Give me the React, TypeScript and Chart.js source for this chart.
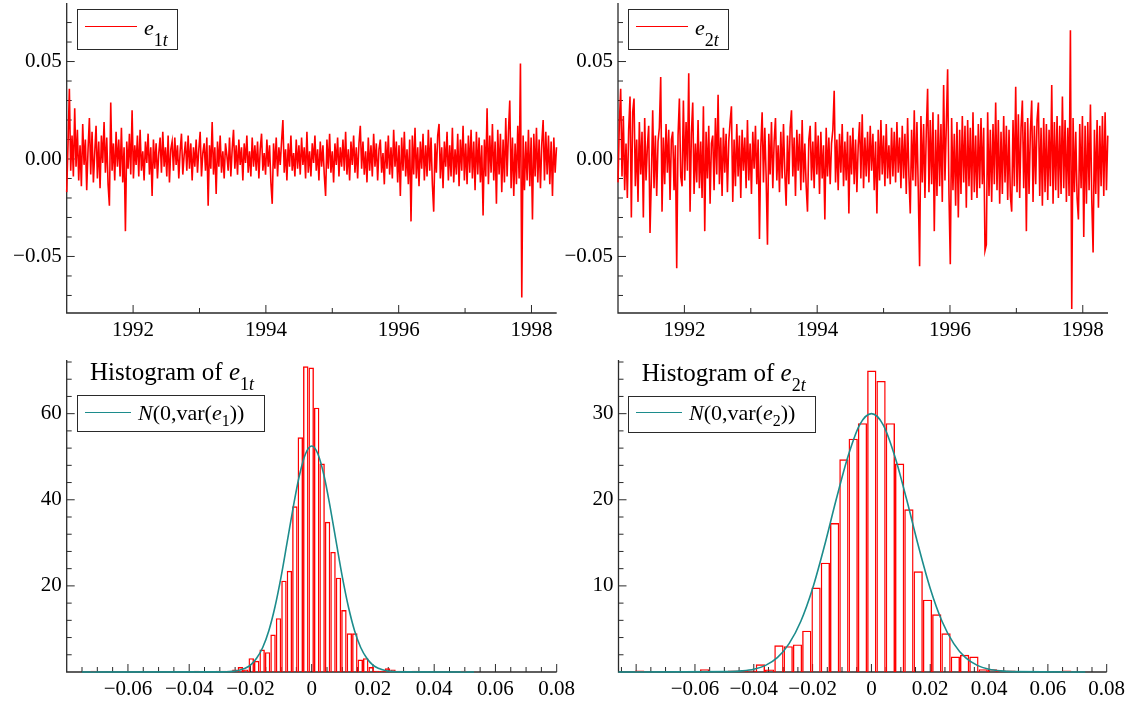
import React, { useEffect, useRef } from 'react';
import { Chart, registerables } from 'chart.js';

Chart.register(...registerables);

const FONT = "'Liberation Serif', 'Times New Roman', Times, serif";
const RED = '#ff0000';
const TEAL = '#1c8c8c';
const AXIS = '#2a2a2a';

// ---------- time series (residuals, in thousandths) ----------
const obsStartYear = 1991.0;
const obsStepYears = 0.0201;
const timeAxisMin = 1991.0;
const timeAxisMax = 1998.38;
const yearLabels = [1992, 1994, 1996, 1998];
const yearMinor = [1993, 1995, 1997];
const resYMin = -0.079;
const resYMax = 0.079;
const resYLabels = [-0.05, 0, 0.05];

const e1Permille = [
  -17, 8, 36, -6, 12, -9, 26, -4, 15, -11, 7, -14, 18, -3, 10, -16,
  5, 21, -8, 14, -12, 3, 17, -10, 9, -15, 12, -2, 19, -7, 11, -13,
  -24, 29, -6, 8, -11, 14, -4, 10, -9, 16, -12, 6, -37, 9, -5, 13,
  -8, 25, -10, 7, -3, 12, -9, 15, -6, 4, -11, 9, -2, 13, -8, 6,
  -19, 10, -5, 8, -10, 3, 11, -7, 14, -4, 6, -9, 12, -12, 5, 9,
  -6, 11, -3, 7, -10, 4, 13, -8, 2, 9, -6, 12, -5, 8, -11, 6,
  -4, 10, -7, 5, 14, -9, 3, 8, -6, 11, -24, 7, -5, 19, -8, 6,
  -18, 9, -4, 12, -7, 4, -10, 8, 2, -6, 11, -9, 5, 15, -5, 7,
  -8, 10, -3, 6, -11, 8, -2, 12, -7, 4, -9, 11, -4, 7, -6, 9,
  -10, 5, 13, -6, 3, -8, 10, -4, 7, -12, -23, 8, -5, 11, -9, 6,
  -3, 9, 20, -7, 5, -11, 8, -4, 12, -6, 3, -9, 10, -5, 7, -8,
  11, -3, 6, -10, 14, -7, 4, -9, 8, -2, 12, -6, 5, -11, 9, -4,
  7, -8, -19, 10, -5, 13, -7, 4, -12, 8, -3, 11, -9, 6, -4, 10,
  -6, 14, -8, 5, -11, 9, -3, 12, -7, 6, -10, 8, 17, -5, 9, -8,
  4, -12, 11, -6, 7, -9, 13, -4, 8, -11, 5, 10, -7, 3, -13, 9,
  -5, 12, -8, 6, -10, 15, -4, 9, -12, 7, -19, 11, -6, 14, -9, 5,
  -13, 10, -32, 12, -8, 16, -10, 6, -14, 9, -5, 13, -11, 7, -9, 15,
  -6, 11, -13, -27, 8, -7, 12, 18, -10, 6, -15, 9, -4, 14, -11, 7,
  -9, 16, -12, 5, -8, 13, -14, 10, -6, 17, -11, 8, -13, 12, -7, 15,
  -10, 9, -16, 14, -8, 11, -12, 7, -29, 10, -9, 26, -13, 12, -7, 18,
  -11, 9, -23, 15, -8, 13, -17, 10, -12, 21, -9, 14, 30, -15, 11, -19,
  8, -13, 17, -10, 49, -71, 12, -16, 9, -11, 15, -14, 11, -31, 13, -9,
  16, -12, 10, -15, 8, 20, -11, 14, -8, 12, -13, 9, -19, 11, -7, 6,
];

const e2Permille = [
  -12, 18, 36, -9, 22, -16, 8, -20, 15, 32, -30, 24, 31, -14, 10, -22,
  19, -8, 14, -30, 21, -11, 6, 17, -38, -10, 25, -15, 12, -19, 9, 16,
  42, -27, 11, -13, 18, -7, 15, -21, 10, 14, -16, 7, -56, 12, 31, -9,
  -14, 30, -11, 19, -6, 44, -27, 13, 29, -18, 8, -12, 20, -15, 9, -20,
  27, -37, 14, -10, 17, -23, 8, 12, -16, 21, -8, 33, -13, 11, -19, 16,
  -7, 13, -17, 9, 19, 27, -22, 10, -14, 18, -9, 12, -20, 15, -6, 11,
  -15, 20, -11, 8, -18, 14, -5, 17, -13, 10, -41, 6, 24, -12, 16, -9,
  -44, 13, -8, 19, -15, 9, 21, -11, 7, -17, 14, -10, 18, -7, -24, 12,
  -13, 16, 25, -9, 11, -19, 15, -6, 13, -16, 20, -12, 8, -14, -27, 10,
  17, -11, 9, -15, 19, -8, 12, -18, 14, -10, 7, -31, 16, -9, 11, -13,
  8, 15, 35, -12, 10, -16, 13, -7, 18, -14, 9, -11, 14, -28, 12, -8,
  16, -13, 10, -17, 7, 19, -10, 23, -15, 11, -9, 14, -12, 17, -6, 13,
  -16, 9, -28, 15, -11, 20, -8, 12, -14, 18, -10, 7, -13, 16, -9, 14,
  -12, 19, -7, 11, -15, 17, -10, 13, -18, 21, -9, -28, 15, -11, 25, -14,
  19, -16, -55, 22, -12, 18, -20, 14, 36, -17, 20, -13, 24, -37, 15, -19,
  23, -14, 18, -22, 38, -11, 17, 46, -18, -54, 21, -16, 13, -24, 19, -30,
  15, -18, 22, -12, 17, -25, 20, -14, 16, -21, 24, -17, 12, -20, 18, -15,
  21, -13, 16, -47, -44, 24, -19, 15, -22, 18, -13, 29, -16, 20, -23, 14,
  -18, 22, -12, 17, -21, 15, -19, -27, 20, -14, 37, -17, 23, -20, 16, 30,
  -15, 19, -37, 21, -18, 14, 30, -22, 17, -13, 20, 29, -19, 16, -24, 21,
  -17, 18, -21, 15, -14, 38, -23, 19, -16, 22, -20, 17, -18, 32, -15, 20,
  -22, 16, -19, 66, -77, 21, -17, 14, -20, -31, 18, -15, 22, -40, 17, -23,
  19, -16, 28, -21, -48, 15, -18, 20, -25, 17, -14, 22, -19, 24, -16, 12,
];

// ---------- histograms (density) ----------
const h1BinEdge = -0.00105;
const h1BinWidth = 0.00178;
const h1FirstBin = -40;
const h1Density = [
  0.29, 0, 0, 0, 0, 0, 0, 0, 0, 0, 0, 0, 0, 0, 0, 0, 0, 0, 0,
  0.29, 0, 0, 0, 0.29, 0.29, 0.29, 0.58, 1.16, 0.58,
  3.2, 2.6, 5.2, 4.6, 8.7, 12.5, 21.2, 23.5, 38.5, 54.5, 71.0,
  70.7, 61.4, 48.4, 34.9, 27.9, 21.9, 14.4, 9.0, 9.0, 2.9, 3.2, 1.16, 0.29, 0.29, 0.87, 0.58, 0.29, 0.29, 0, 0.29,
  0, 0, 0, 0, 0, 0, 0, 0, 0.29,
];

const h2BinEdge = -0.00146;
const h2BinWidth = 0.003157;
const h2FirstBin = -25;
const h2Density = [
  0.16, 0, 0, 0, 0, 0, 0, 0.33, 0, 0,
  0.16, 0.16, 0.16, 0.9, 0.3,
  3.1, 3.0, 3.2, 4.8, 9.8, 12.7, 17.3, 24.7, 27.1, 28.9,
  35.0, 33.8, 28.9, 24.2, 18.9, 11.7, 8.4, 6.7, 4.5, 1.8, 2.0, 1.8, 0.33, 0.33, 0.16, 0.16,
  0, 0, 0, 0, 0, 0.16,
];

// Normal density curves
const n1CurveX = [
  -0.075, -0.03, -0.028, -0.026, -0.024, -0.022, -0.02, -0.018, -0.016, -0.014, -0.012, -0.01, -0.008, -0.006, -0.004, -0.002,
  0, 0.002, 0.004, 0.006, 0.008, 0.01, 0.012, 0.014, 0.016, 0.018, 0.02, 0.022, 0.024, 0.026, 0.028, 0.03, 0.053,
];
const n1CurveY = [
  0, 0.02, 0.06, 0.15, 0.36, 0.8, 1.6, 3.2, 5.7, 9.6, 15.1, 22.1, 30.2, 38.4, 45.7, 50.7,
  52.5, 50.7, 45.7, 38.4, 30.2, 22.1, 15.1, 9.6, 5.7, 3.2, 1.6, 0.8, 0.36, 0.15, 0.06, 0.02, 0,
];
const n2CurveX = [
  -0.086, -0.048, -0.044, -0.04, -0.036, -0.032, -0.028, -0.024, -0.02, -0.016, -0.012, -0.008, -0.004,
  0, 0.004, 0.008, 0.012, 0.016, 0.02, 0.024, 0.028, 0.032, 0.036, 0.04, 0.044, 0.048, 0.0727,
];
const n2CurveY = [
  0, 0.04, 0.13, 0.33, 0.77, 1.66, 3.3, 5.9, 9.7, 14.6, 20.0, 25.0, 28.7,
  30.0, 28.7, 25.0, 20.0, 14.6, 9.7, 5.9, 3.3, 1.66, 0.77, 0.33, 0.13, 0.04, 0,
];

const hist1XMin = -0.08;
const hist2XMin = -0.086;
const histXMax = 0.08;
const histXLabels = [-0.06, -0.04, -0.02, 0, 0.02, 0.04, 0.06, 0.08];
const hist1YMax = 72;
const hist2YMax = 36;
const hist1YLabels = [20, 40, 60];
const hist2YLabels = [10, 20, 30];

// ---------- helpers ----------
function steps(from: number, to: number, step: number, exclude: number[]): number[] {
  const out: number[] = [];
  const n = Math.round((to - from) / step);
  for (let i = 0; i <= n; i++) {
    const v = Math.round((from + i * step) * 1e6) / 1e6;
    if (!exclude.some((e) => Math.abs(e - v) < 1e-9)) out.push(v);
  }
  return out;
}

const signed = (v: number, d: number) => (v < 0 ? '\u2212' : '') + Math.abs(v).toFixed(d);

type Spec = {
  left: number; top: number; width: number; height: number;
  areaLeft: number; areaTop: number; areaRight: number; areaBottom: number;
  type: 'line' | 'bar';
  datasets: any[];
  xMin: number; xMax: number; yMin: number; yMax: number;
  xLabels: number[]; yLabels: number[];
  xFmt: (v: number) => string; yFmt: (v: number) => string;
  xMajor: number[]; xMinor: number[]; yMajor: number[]; yMinor: number[];
};

function axesPlugin(s: Spec) {
  return {
    id: 'oxAxes',
    beforeDatasetsDraw(chart: any) {
      const { ctx, chartArea: a } = chart;
      const xs = chart.scales.x;
      const ys = chart.scales.y;
      ctx.save();
      ctx.strokeStyle = AXIS;
      ctx.lineWidth = 1.3;
      ctx.beginPath();
      ctx.moveTo(a.left, a.top - 2);
      ctx.lineTo(a.left, a.bottom);
      ctx.lineTo(a.right, a.bottom);
      ctx.stroke();
      ctx.lineWidth = 1;
      ctx.beginPath();
      const xt = (vals: number[], len: number) =>
        vals.forEach((v) => {
          const p = xs.getPixelForValue(v);
          if (p < a.left + 1) return;
          ctx.moveTo(p, a.bottom);
          ctx.lineTo(p, a.bottom - len);
        });
      const yt = (vals: number[], len: number) =>
        vals.forEach((v) => {
          const p = ys.getPixelForValue(v);
          if (p > a.bottom - 1) return;
          ctx.moveTo(a.left, p);
          ctx.lineTo(a.left + len, p);
        });
      xt(s.xMajor, 8);
      xt(s.xMinor, 5);
      yt(s.yMajor, 8);
      yt(s.yMinor, 5);
      ctx.stroke();
      ctx.restore();
    },
  };
}

function buildConfig(s: Spec): any {
  const yAxisWidth = s.areaLeft - s.left;
  const xAxisHeight = s.top + s.height - s.areaBottom;
  const tickFont = { family: FONT, size: 21 };
  return {
    type: s.type,
    data: { datasets: s.datasets },
    options: {
      animation: false,
      responsive: false,
      maintainAspectRatio: false,
      events: [],
      layout: {
        padding: { left: 0, top: s.areaTop - s.top, right: s.left + s.width - s.areaRight, bottom: 0 },
      },
      plugins: { legend: { display: false }, tooltip: { enabled: false }, title: { display: false } },
      scales: {
        x: {
          type: 'linear',
          position: 'bottom',
          min: s.xMin,
          max: s.xMax,
          offset: false,
          grid: { display: false, drawTicks: false },
          border: { display: false },
          afterBuildTicks: (ax: any) => {
            ax.ticks = s.xLabels.map((v) => ({ value: v }));
          },
          afterFit: (ax: any) => {
            ax.height = xAxisHeight;
            ax.paddingLeft = 0;
            ax.paddingRight = 0;
            ax.paddingTop = 0;
            ax.paddingBottom = 0;
          },
          ticks: {
            autoSkip: false,
            maxRotation: 0,
            minRotation: 0,
            padding: 5,
            color: '#000',
            font: tickFont,
            callback: (v: any) => s.xFmt(Number(v)),
          },
        },
        y: {
          type: 'linear',
          position: 'left',
          min: s.yMin,
          max: s.yMax,
          grid: { display: false, drawTicks: false },
          border: { display: false },
          afterBuildTicks: (ax: any) => {
            ax.ticks = s.yLabels.map((v) => ({ value: v }));
          },
          afterFit: (ax: any) => {
            ax.width = yAxisWidth;
            ax.paddingLeft = 0;
            ax.paddingRight = 0;
            ax.paddingTop = 0;
            ax.paddingBottom = 0;
          },
          ticks: {
            autoSkip: false,
            padding: 5,
            color: '#000',
            font: tickFont,
            callback: (v: any) => s.yFmt(Number(v)),
          },
        },
      },
    },
    plugins: [axesPlugin(s)],
  };
}

function ChartPanel({ spec }: { spec: Spec }) {
  const ref = useRef<HTMLCanvasElement>(null);
  useEffect(() => {
    const chart = new Chart(ref.current as HTMLCanvasElement, buildConfig(spec));
    return () => chart.destroy();
  }, []);
  return (
    <canvas
      ref={ref}
      width={spec.width}
      height={spec.height}
      style={{ position: 'absolute', left: spec.left, top: spec.top, width: spec.width, height: spec.height }}
    />
  );
}

// ---------- datasets ----------
const seriesPoints = (vals: number[]) => vals.map((v, i) => ({ x: obsStartYear + i * obsStepYears, y: v / 1000 }));
const histPoints = (dens: number[], edge: number, width: number, first: number) =>
  dens.map((d, i) => ({ x: edge + (first + i + 0.5) * width, y: d }));
const curvePoints = (xs: number[], ys: number[]) => xs.map((x, i) => ({ x, y: ys[i] }));

const lineDs = (vals: number[]) => ({
  data: seriesPoints(vals),
  borderColor: RED,
  borderWidth: 1.6,
  pointRadius: 0,
  tension: 0,
  borderJoinStyle: 'miter',
  clip: 3,
});

const barDs = (pts: any[]) => ({
  type: 'bar',
  data: pts,
  backgroundColor: 'rgba(255,255,255,0)',
  borderColor: RED,
  borderWidth: 1.4,
  barPercentage: 1,
  categoryPercentage: 1,
  inflateAmount: 0,
  borderSkipped: 'start',
  order: 2,
});

const curveDs = (pts: any[]) => ({
  type: 'line',
  data: pts,
  borderColor: TEAL,
  borderWidth: 1.6,
  pointRadius: 0,
  cubicInterpolationMode: 'monotone',
  order: 1,
  clip: 4,
});

const resYMinor = steps(-0.07, 0.07, 0.01, resYLabels);
const histXMajor = [-0.08, ...histXLabels];
const hist1XMinor = steps(-0.08, 0.08, 0.005, histXMajor);
const hist2XMinor = steps(-0.085, 0.08, 0.005, histXMajor);
const hist1YMinor = steps(4, 72, 4, hist1YLabels);
const hist2YMinor = steps(2, 36, 2, hist2YLabels);

const resCommon = {
  type: 'line' as const,
  xMin: timeAxisMin, xMax: timeAxisMax, yMin: resYMin, yMax: resYMax,
  xLabels: yearLabels, yLabels: resYLabels,
  xFmt: (v: number) => String(v),
  yFmt: (v: number) => (v === 0 ? '0.00' : signed(v, 2)),
  xMajor: yearLabels, xMinor: yearMinor, yMajor: resYLabels, yMinor: resYMinor,
};

const histXFmt = (v: number) => (v === 0 ? '0' : signed(v, 2));

const specs: Spec[] = [
  {
    ...resCommon,
    left: 0, top: 0, width: 585, height: 350,
    areaLeft: 66.7, areaTop: 5, areaRight: 556.7, areaBottom: 313,
    datasets: [lineDs(e1Permille)],
  },
  {
    ...resCommon,
    left: 560, top: 0, width: 574, height: 350,
    areaLeft: 618, areaTop: 5, areaRight: 1108, areaBottom: 313,
    datasets: [lineDs(e2Permille)],
  },
  {
    type: 'bar',
    left: 0, top: 345, width: 585, height: 359,
    areaLeft: 66.7, areaTop: 362, areaRight: 556.7, areaBottom: 672,
    datasets: [barDs(histPoints(h1Density, h1BinEdge, h1BinWidth, h1FirstBin)), curveDs(curvePoints(n1CurveX, n1CurveY))],
    xMin: hist1XMin, xMax: histXMax, yMin: 0, yMax: hist1YMax,
    xLabels: histXLabels, yLabels: hist1YLabels,
    xFmt: histXFmt, yFmt: (v: number) => String(v),
    xMajor: histXMajor, xMinor: hist1XMinor, yMajor: hist1YLabels, yMinor: hist1YMinor,
  },
  {
    type: 'bar',
    left: 560, top: 345, width: 574, height: 359,
    areaLeft: 618.5, areaTop: 362, areaRight: 1106.7, areaBottom: 672,
    datasets: [barDs(histPoints(h2Density, h2BinEdge, h2BinWidth, h2FirstBin)), curveDs(curvePoints(n2CurveX, n2CurveY))],
    xMin: hist2XMin, xMax: histXMax, yMin: 0, yMax: hist2YMax,
    xLabels: histXLabels, yLabels: hist2YLabels,
    xFmt: histXFmt, yFmt: (v: number) => String(v),
    xMajor: histXMajor, xMinor: hist2XMinor, yMajor: hist2YLabels, yMinor: hist2YMinor,
  },
];

// ---------- overlays ----------
const it = { fontStyle: 'italic' as const };

function SeriesLegend({ left, top, idx }: { left: number; top: number; idx: string }) {
  return (
    <div
      style={{
        position: 'absolute', left, top, width: 101, height: 41, boxSizing: 'border-box',
        border: `1px solid ${AXIS}`, background: '#fff',
      }}
    >
      <div style={{ position: 'absolute', left: 7, top: 16, width: 52, borderTop: `1.5px solid ${RED}` }} />
      <div style={{ position: 'absolute', left: 66, top: 6.6, fontSize: 22, lineHeight: '22px', whiteSpace: 'nowrap', color: '#000' }}>
        <span style={it}>e</span>
        <span style={{ fontSize: 18, verticalAlign: -11 }}>
          {idx}
          <span style={it}>t</span>
        </span>
      </div>
    </div>
  );
}

function HistTitle({ left, top, idx }: { left: number; top: number; idx: string }) {
  return (
    <div style={{ position: 'absolute', left, top, fontSize: 25, lineHeight: '25px', whiteSpace: 'nowrap', color: '#000' }}>
      Histogram of <span style={it}>e</span>
      <span style={{ fontSize: 18, verticalAlign: -10 }}>
        {idx}
        <span style={it}>t</span>
      </span>
    </div>
  );
}

function NormalLegend({ left, top, idx }: { left: number; top: number; idx: string }) {
  return (
    <div
      style={{
        position: 'absolute', left, top, width: 188, height: 37, boxSizing: 'border-box',
        border: `1px solid ${AXIS}`, background: '#fff',
      }}
    >
      <div style={{ position: 'absolute', left: 7, top: 15.5, width: 46, borderTop: `1.6px solid ${TEAL}` }} />
      <div style={{ position: 'absolute', left: 60, top: 5.6, fontSize: 22, lineHeight: '22px', whiteSpace: 'nowrap', color: '#000' }}>
        <span style={it}>N</span>(0,var(<span style={it}>e</span>
        <span style={{ fontSize: 16, verticalAlign: -6 }}>{idx}</span>))
      </div>
    </div>
  );
}

export default function App() {
  return (
    <div
      style={{
        position: 'fixed', left: 0, top: 0, width: 1134, height: 704, background: '#fff',
        overflow: 'hidden', fontFamily: FONT,
      }}
    >
      {specs.map((s, i) => (
        <ChartPanel key={i} spec={s} />
      ))}
      <SeriesLegend left={77} top={9} idx="1" />
      <SeriesLegend left={628} top={9} idx="2" />
      <HistTitle left={90} top={359} idx="1" />
      <HistTitle left={641.7} top={360} idx="2" />
      <NormalLegend left={77} top={395} idx="1" />
      <NormalLegend left={628} top={395.5} idx="2" />
    </div>
  );
}
